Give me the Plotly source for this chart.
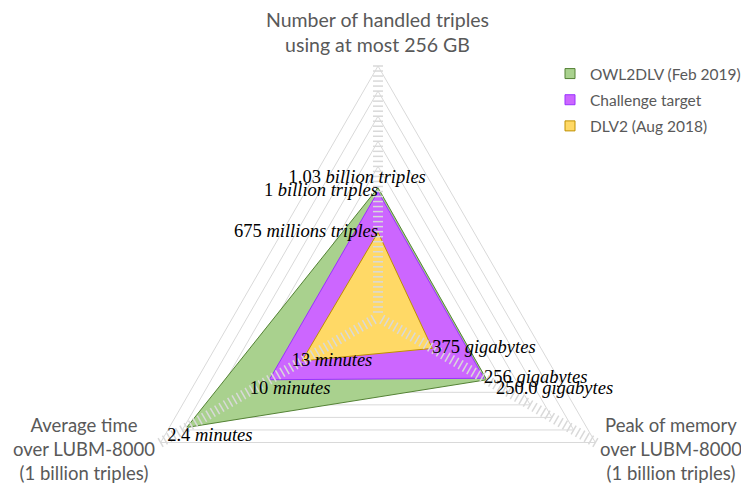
import numpy as np
import plotly.graph_objects as go

# ---------------- data ----------------
series_names = ["OWL2DLV (Feb 2019)", "Challenge target", "DLV2 (Aug 2018)"]
triples_billion = [1.03, 1.0, 0.675]      # number of handled triples (billions)
memory_gb = [250.0, 256.0, 375.0]         # peak of memory (GB)
time_min = [2.4, 10.0, 13.0]              # average time (minutes)

triples_labels = ["1.03 <i>billion triples</i>", "1 <i>billion triples</i>", "675 <i>millions triples</i>"]
memory_labels = ["250.0 <i>gigabytes</i>", "256 <i>gigabytes</i>", "375 <i>gigabytes</i>"]
time_labels = ["2.4 <i>minutes</i>", "10 <i>minutes</i>", "13 <i>minutes</i>"]

axis_titles = ["Number of handled triples<br>using at most 256 GB",
               "Peak of memory<br>over LUBM-8000<br>(1 billion triples)",
               "Average time<br>over LUBM-8000<br>(1 billion triples)"]

# scale maxima of each axis
TRIPLES_MAX = 2.0
MEMORY_MAX = 500.0
TIME_MAX = 20.0

# ---------------- styles ----------------
fill_colors = ["#a9d18e", "#cc66ff", "#ffd966"]
line_colors = ["#548235", "#9933ff", "#bf9000"]
grid_color = "#d9d9d9"
axis_angles = np.deg2rad([90, -30, 210])   # triples, memory, time

# page has an 8px body margin: figure is drawn inside it
OFF = 8
W, H = 749 - OFF, 483 - OFF

def px_x(X):
    return (X - OFF) / W

def px_y(Y):
    return 1 - (Y - OFF) / H

def to_xy(r, ang):
    return r * np.cos(ang), r * np.sin(ang)

def norm_values(i):
    return [triples_billion[i] / TRIPLES_MAX,
            1 - memory_gb[i] / MEMORY_MAX,
            1 - time_min[i] / TIME_MAX]

fig = go.Figure()

# grid triangles
gx, gy = [], []
for k in range(1, 11):
    r = k / 10
    for a in list(axis_angles) + [axis_angles[0]]:
        x, y = to_xy(r, a)
        gx.append(x); gy.append(y)
    gx.append(None); gy.append(None)
fig.add_trace(go.Scatter(x=gx, y=gy, mode="lines", line=dict(color=grid_color, width=1),
                         hoverinfo="skip", showlegend=False))

# polygons
for i, name in enumerate(series_names):
    rv = norm_values(i)
    xs, ys = [], []
    for r, a in zip(rv + [rv[0]], list(axis_angles) + [axis_angles[0]]):
        x, y = to_xy(r, a)
        xs.append(x); ys.append(y)
    fig.add_trace(go.Scatter(x=xs, y=ys, mode="lines", fill="toself",
                             fillcolor=fill_colors[i],
                             line=dict(color=line_colors[i], width=1),
                             name=name, showlegend=False, hoverinfo="skip"))

# axis tick marks (drawn above the fills)
tx, ty = [], []
half = 0.02
for a in axis_angles:
    px, py = -np.sin(a), np.cos(a)
    for k in range(1, 51):
        r = k * 0.02
        cx_, cy_ = to_xy(r, a)
        tx += [cx_ - half * px, cx_ + half * px, None]
        ty += [cy_ - half * py, cy_ + half * py, None]
fig.add_trace(go.Scatter(x=tx, y=ty, mode="lines", line=dict(color=grid_color, width=1.5),
                         hoverinfo="skip", showlegend=False))

# data labels
NB = "\u00a0"
label_font = dict(family="Liberation Serif, Times New Roman, serif", size=18.5, color="black")
lab_x, lab_y, lab_t, lab_p = [], [], [], []
trip_pos = ["top center", "middle left", "middle left"]
trip_txt = [triples_labels[0] + NB * 9, triples_labels[1], triples_labels[2]]
mem_pos = ["bottom right", "middle right", "middle right"]
mem_txt = [NB * 2 + memory_labels[0], memory_labels[1], memory_labels[2]]
time_pos = ["bottom center", "bottom center", "middle center"]
time_txt = [NB * 10 + time_labels[0], NB * 9 + time_labels[1], NB * 13 + time_labels[2]]
for i in range(3):
    rv = norm_values(i)
    for j, (txt, pos) in enumerate([(trip_txt[i], trip_pos[i]),
                                    (mem_txt[i], mem_pos[i]),
                                    (time_txt[i], time_pos[i])]):
        x, y = to_xy(rv[j], axis_angles[j])
        lab_x.append(x); lab_y.append(y); lab_t.append(txt); lab_p.append(pos)
fig.add_trace(go.Scatter(x=lab_x, y=lab_y, mode="text", text=lab_t, textposition=lab_p,
                         textfont=label_font, hoverinfo="skip", showlegend=False))

# legend entries
for i, name in enumerate(series_names):
    fig.add_trace(go.Scatter(x=[None], y=[None], mode="markers", name=name,
                             legendgroup=str(i),
                             marker=dict(symbol="square", size=10, color=fill_colors[i],
                                         line=dict(color=line_colors[i], width=1))))

top_font = dict(family="Lato, sans-serif", size=19.5, color="#595959")
side_font = dict(family="Lato, sans-serif", size=18.5, color="#595959")
for txt, xp, yp, fnt in [(axis_titles[0], 377, 32, top_font),
                         (axis_titles[1], 671, 449, side_font),
                         (axis_titles[2], 84, 449, side_font)]:
    fig.add_annotation(text=txt, x=px_x(xp), y=px_y(yp), xref="paper", yref="paper",
                       xanchor="center", yanchor="middle",
                       showarrow=False, font=fnt, align="center")

S = 251.0
cx, cy = 378.0 - OFF, 317.0 - OFF
fig.update_layout(
    width=W, height=H,
    margin=dict(l=0, r=0, t=0, b=0, autoexpand=False),
    paper_bgcolor="white", plot_bgcolor="white",
    xaxis=dict(range=[-cx / S, (W - cx) / S], visible=False, fixedrange=True),
    yaxis=dict(range=[-(H - cy) / S, cy / S], visible=False, fixedrange=True),
    legend=dict(x=px_x(550), y=px_y(57), xanchor="left", yanchor="top",
                font=dict(family="Lato, sans-serif", size=15.5, color="#595959"),
                tracegroupgap=3, bgcolor="rgba(0,0,0,0)", itemwidth=30),
    showlegend=True,
)

fig.write_html("out.html")
